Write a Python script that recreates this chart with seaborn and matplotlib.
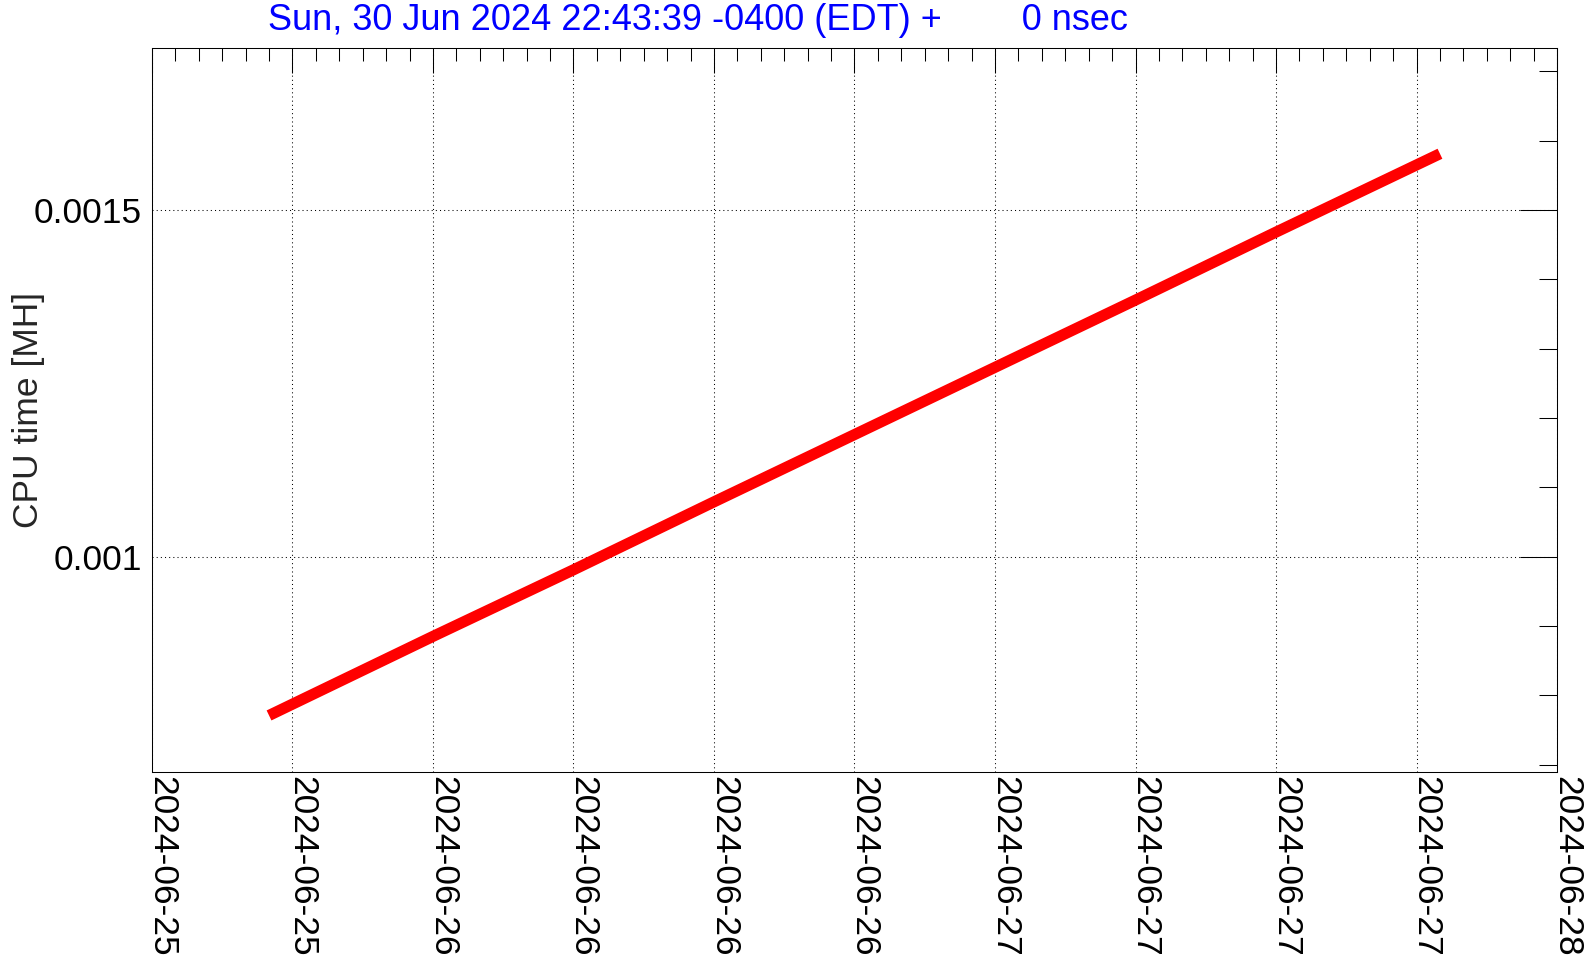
import pandas as pd
import seaborn as sns
import matplotlib.pyplot as plt
import matplotlib.dates as mdates


# Values (CPU time in MH vs. time)
times = [
    "2024-06-25 17:00", "2024-06-26 00:00", "2024-06-26 06:00",
    "2024-06-26 12:00", "2024-06-26 18:00", "2024-06-27 00:00",
    "2024-06-27 06:00", "2024-06-27 12:00", "2024-06-27 19:00",
]
cpu_time = [
    0.000771, 0.000885, 0.000981,
    0.001079, 0.001176, 0.001273,
    0.001370, 0.001468, 0.001581,
]
x_range = ["2024-06-25 12:00", "2024-06-28 00:00"]
y_range = [0.0006895, 0.0017336]
y_major = [0.001, 0.0015]
y_tick_labels = ["0.001", "0.0015"]
title_text = "Sun, 30 Jun 2024 22:43:39 -0400 (EDT) +        0 nsec"
y_label = "CPU time [MH]"


df = pd.DataFrame({"time": pd.to_datetime(times), "cpu": cpu_time})

sns.set_style("white")
plt.rcParams["font.family"] = ["Liberation Sans", "DejaVu Sans"]

fig = plt.figure(figsize=(15.96, 9.72), dpi=100)
ax = fig.add_axes([0.0952, 0.2058, 0.8804, 0.7449])

# Thick red line
sns.lineplot(data=df, x="time", y="cpu", ax=ax, color="#ff0000",
             linewidth=8, solid_capstyle="butt", zorder=3)

ax.set_xlim(pd.to_datetime(x_range[0]), pd.to_datetime(x_range[1]))
ax.set_ylim(*y_range)

# Axis ticks, ROOT style
ax.xaxis.set_major_locator(mdates.HourLocator(byhour=[0, 6, 12, 18]))
ax.xaxis.set_minor_locator(mdates.HourLocator(interval=1))
ax.xaxis.set_major_formatter(mdates.DateFormatter("%Y-%m-%d"))
ax.set_yticks(y_major)
ax.set_yticklabels(y_tick_labels)
ax.set_yticks([0.0007, 0.0008, 0.0009, 0.0011, 0.0012, 0.0013, 0.0014, 0.0016, 0.0017],
              minor=True)

fs = 25.5
ax.tick_params(axis="both", which="both", direction="in", top=True, right=True,
               width=0.75, color="black", labelsize=fs, labelcolor="black")
ax.tick_params(axis="x", which="major", length=18, pad=3.0)
ax.tick_params(axis="x", which="minor", length=9.4)
ax.tick_params(axis="y", which="major", length=26.4, pad=7.2)
ax.tick_params(axis="y", which="minor", length=13.2)

for lbl in ax.get_xticklabels():
    lbl.set_rotation(-90)
    lbl.set_rotation_mode("anchor")
    lbl.set_ha("left")
    lbl.set_va("baseline")

for spine in ax.spines.values():
    spine.set_visible(True)
    spine.set_color("black")
    spine.set_linewidth(0.75)

ax.grid(which="major", color="black", linestyle=(0, (1, 3)), linewidth=0.75)
ax.grid(which="minor", visible=False)
ax.set_axisbelow(True)

ax.set_xlabel("")
ax.set_ylabel(y_label, fontsize=fs)
ax.yaxis.set_label_coords(-0.076, 0.5)

fig.text(268 / 1596, 1 - 20 / 972, title_text, color="#0000ff",
         fontsize=26, ha="left", va="center")

fig.savefig("out.png", dpi=100)
